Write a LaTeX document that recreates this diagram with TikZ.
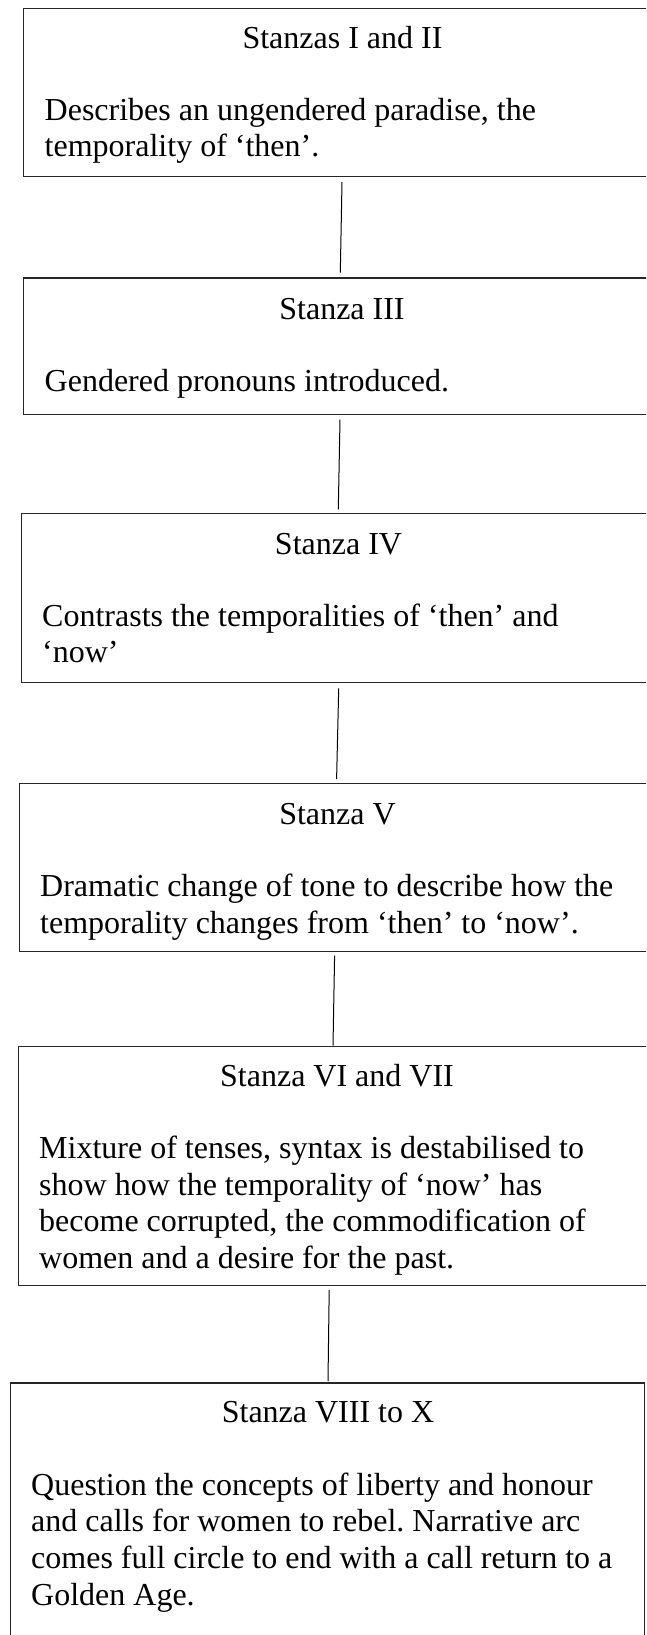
\documentclass[tikz,border=0pt]{standalone}
\usepackage{fontspec}
\setmainfont{Liberation Serif}
\usetikzlibrary{calc}
\frenchspacing

\tikzset{
  stanzabox/.style={draw=black!85, line width=1.3pt, rectangle, inner sep=0pt, outer sep=0pt, anchor=north west},
  heading/.style={anchor=base, inner sep=0pt, font=\fontsize{32}{36.7}\selectfont},
  summary/.style={anchor=north west, inner sep=0pt, align=left, font=\fontsize{32}{36.7}\selectfont},
  conn/.style={draw=black, line width=1pt}
}

\begin{document}
\begin{tikzpicture}[x=1pt, y=-1pt]
  \useasboundingbox (0,0) rectangle (646,1635);
  \clip (0,0) rectangle (646,1635);

  % stanza boxes
  \node[stanzabox, minimum width=636.3pt, minimum height=168.4pt] (b1) at (23.7,8.3) {};
  \node[stanzabox, minimum width=636.5pt, minimum height=136.3pt] (b2) at (23.5,278) {};
  \node[stanzabox, minimum width=638.6pt, minimum height=168.6pt] (b3) at (21.4,513.7) {};
  \node[stanzabox, minimum width=640.6pt, minimum height=168.4pt] (b4) at (19.4,783.3) {};
  \node[stanzabox, minimum width=641.5pt, minimum height=239pt] (b5) at (18.5,1046.7) {};
  \node[stanzabox, minimum width=634pt, minimum height=267pt] (b6) at (10.7,1383) {};

  % headings
  \node[heading] (h1) at (342.5,49) {Stanzas I and II};
  \node[heading] (h2) at (342,319) {Stanza III};
  \node[heading] (h3) at (338.5,554) {Stanza IV};
  \node[heading] (h4) at (337.5,824) {Stanza V};
  \node[heading] (h5) at (337,1086.4) {Stanza VI and VII};
  \node[heading] (h6) at (328,1422.4) {Stanza VIII to X};

  % summaries (first baseline sits one strut height below the anchor)
  \node[summary] (s1) at (44.5,94.3) {\strut Describes an ungendered paradise, the\\temporality of ‘then’.};
  \node[summary] (s2) at (44.5,366) {\strut Gendered pronouns introduced.};
  \node[summary] (s3) at (42,600.3) {\strut Contrasts the temporalities of ‘then’ and\\‘now’};
  \node[summary] (s4) at (40,871) {\strut Dramatic change of tone to describe how the\\temporality changes from ‘then’ to ‘now’.};
  \node[summary] (s5) at (39,1132.6) {\strut Mixture of tenses, syntax is destabilised to\\show how the temporality of ‘now’ has\\become corrupted, the commodification of\\women and a desire for the past.};
  \node[summary] (s6) at (31,1469.3) {\strut Question the concepts of liberty and honour\\and calls for women to rebel. Narrative arc\\comes full circle to end with a call return to a\\Golden Age.};

  % connectors between consecutive boxes
  \draw[conn] ([shift={(0.15,5.3)}]b1.south) -- ([shift={(-1.45,-5.3)}]b2.north);
  \draw[conn] ([shift={(-1.75,5.4)}]b2.south) -- ([shift={(-2.4,-4.4)}]b3.north);
  \draw[conn] ([shift={(-2,6)}]b3.south) -- ([shift={(-3.1,-4.3)}]b4.north);
  \draw[conn] ([shift={(-5.1,3.8)}]b4.south) -- ([shift={(-6.25,-1)}]b5.north);
  \draw[conn] ([shift={(-10.05,4.3)}]b5.south) -- ([shift={(0.3,-2)}]b6.north);
\end{tikzpicture}
\end{document}
